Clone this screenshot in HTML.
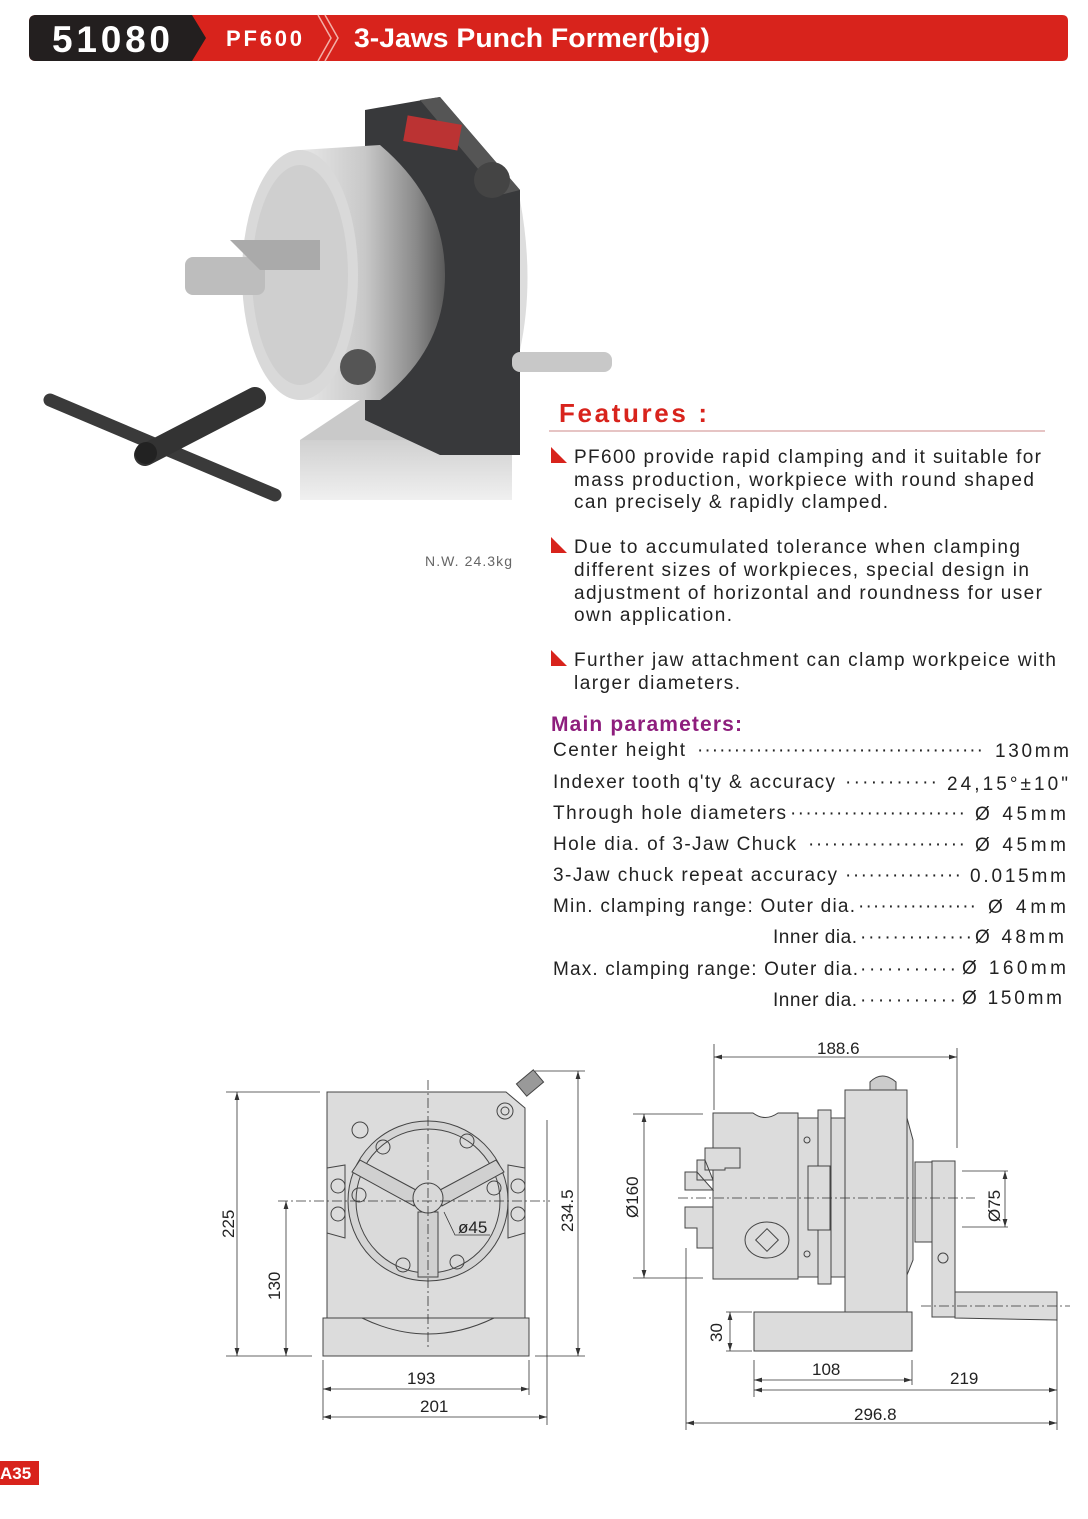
<!DOCTYPE html>
<html><head><meta charset="utf-8"><style>
html,body{margin:0;padding:0;background:#fff}
svg{display:block}
text{font-family:"Liberation Sans",sans-serif}
</style></head><body>
<svg width="1088" height="1519" viewBox="0 0 1088 1519" xmlns="http://www.w3.org/2000/svg">
<defs>
<linearGradient id="chk" x1="0" x2="1"><stop offset="0" stop-color="#e8e8e8"/><stop offset="0.45" stop-color="#c8c8c8"/><stop offset="0.8" stop-color="#8a8a8a"/><stop offset="1" stop-color="#5a5a5a"/></linearGradient>
<linearGradient id="bs" x1="0" y1="0" x2="0" y2="1"><stop offset="0" stop-color="#d0d0d0"/><stop offset="1" stop-color="#f0f0f0"/></linearGradient>
<marker id="a" viewBox="0 0 10 6" refX="10" refY="3" markerWidth="10" markerHeight="6" orient="auto-start-reverse"><path d="M0,0 L10,3 L0,6 z" fill="#333"/></marker>
</defs>
<!-- header -->
<path d="M36,15 H1062 Q1068,15 1068,21 V55 Q1068,61 1062,61 H36 Q29,61 29,54 V22 Q29,15 36,15Z" fill="#d8231c"/>
<path d="M36,15 H192 L206,38 L192,61 H36 Q29,61 29,54 V22 Q29,15 36,15Z" fill="#231f1f"/>
<path d="M318,15 L331,38 L318,61 M325,15 L338,38 L325,61" stroke="#f3b0a8" stroke-width="1.5" fill="none"/>
<text x="52" y="52" font-size="37" font-weight="bold" fill="#fff" textLength="118">51080</text>
<text x="226" y="46" font-size="22" font-weight="bold" fill="#fff" textLength="76">PF600</text>
<text x="354" y="47" font-size="27" font-weight="bold" fill="#fff" textLength="356" lengthAdjust="spacingAndGlyphs">3-Jaws Punch Former(big)</text>

<!-- photo approximation -->
<path d="M300,440 L512,440 L512,500 L300,500 Z" fill="url(#bs)"/>
<path d="M300,440 L360,400 L460,400 L512,440Z" fill="#c9c9c9"/>
<path d="M365,110 L440,97 L520,190 L520,455 L440,455 L365,420Z" fill="#38393b"/>
<path d="M440,97 L520,190 L500,195 L420,100Z" fill="#555"/>
<rect x="405" y="120" width="55" height="26" fill="#b33" transform="rotate(10 433 133)"/>
<circle cx="492" cy="180" r="18" fill="#444"/>
<path d="M520,200 Q535,280 520,350Z" fill="#ddd"/>
<rect x="512" y="352" width="100" height="20" rx="8" fill="#c8c8c8"/>
<path d="M300,150 L380,145 Q445,200 445,275 Q445,350 380,400 L300,400Z" fill="url(#chk)"/>
<ellipse cx="300" cy="275" rx="58" ry="125" fill="#d9d9d9"/>
<ellipse cx="300" cy="275" rx="48" ry="110" fill="#cfcfcf"/>
<rect x="185" y="257" width="80" height="38" rx="8" fill="#bdbdbd"/>
<path d="M230,240 L320,240 L320,270 L260,270Z" fill="#aaa"/>
<circle cx="358" cy="367" r="18" fill="#555"/>
<path d="M50,400 L275,495" stroke="#3a3a3a" stroke-width="13" stroke-linecap="round"/>
<path d="M145,455 L255,398" stroke="#333" stroke-width="22" stroke-linecap="round"/>
<circle cx="146" cy="453" r="11" fill="#222"/>
<text x="425" y="566" font-size="14" fill="#666" textLength="87">N.W. 24.3kg</text>

<!-- features -->
<text x="559" y="422" font-size="26" font-weight="bold" fill="#d8231c" textLength="148">Features :</text>
<line x1="549" y1="431" x2="1045" y2="431" stroke="#c88" stroke-width="1"/>
<g fill="#d8231c"><path d="M551,447 L567,463 L551,463Z"/><path d="M551,537 L567,553 L551,553Z"/><path d="M551,650 L567,666 L551,666Z"/></g>
<g font-size="19" fill="#222">
<text x="574" y="463" textLength="467">PF600 provide rapid clamping and it suitable for</text>
<text x="574" y="486" textLength="460">mass production, workpiece with round shaped</text>
<text x="574" y="508" textLength="314">can precisely &amp; rapidly clamped.</text>
<text x="574" y="553" textLength="446">Due to accumulated tolerance when clamping</text>
<text x="574" y="576" textLength="455">different sizes of workpieces, special design in</text>
<text x="574" y="599" textLength="468">adjustment of horizontal and roundness for user</text>
<text x="574" y="621" textLength="158">own application.</text>
<text x="574" y="666" textLength="482">Further jaw attachment can clamp workpeice with</text>
<text x="574" y="689" textLength="166">larger diameters.</text>
</g>
<text x="551" y="731" font-size="21" font-weight="bold" fill="#8e1e7d" textLength="191">Main parameters:</text>
<g font-size="19" fill="#222">
<text x="553" y="756" textLength="132">Center height</text><text x="697" y="756" textLength="288" letter-spacing="2">·······································</text><text x="995" y="757" textLength="74">130mm</text>
<text x="553" y="788" textLength="282">Indexer tooth q'ty &amp; accuracy</text><text x="845" y="788" textLength="92">···········</text><text x="947" y="790" textLength="121">24,15°±10"</text>
<text x="553" y="819" textLength="233">Through hole diameters</text><text x="790" y="819" textLength="175">·······················</text><text x="975" y="820" textLength="91">Ø 45mm</text>
<text x="553" y="850" textLength="243">Hole dia. of 3-Jaw Chuck</text><text x="808" y="850" textLength="157">····················</text><text x="975" y="851" textLength="91">Ø 45mm</text>
<text x="553" y="881" textLength="284">3-Jaw chuck repeat accuracy</text><text x="845" y="881" textLength="116">···············</text><text x="970" y="882" textLength="96">0.015mm</text>
<text x="553" y="912" textLength="302">Min. clamping range: Outer dia.</text><text x="858" y="912" textLength="118">················</text><text x="988" y="913" textLength="78">Ø 4mm</text>
<text x="773" y="943" textLength="84">Inner dia.</text><text x="860" y="943" textLength="112">··············</text><text x="975" y="943" textLength="89">Ø 48mm</text>
<text x="553" y="975" textLength="305">Max. clamping range: Outer dia.</text><text x="860" y="975" textLength="96">···········</text><text x="962" y="974" textLength="104">Ø 160mm</text>
<text x="773" y="1006" textLength="84">Inner dia.</text><text x="860" y="1006" textLength="96">···········</text><text x="962" y="1004" textLength="100">Ø 150mm</text>
</g>

<!-- front view drawing -->
<g stroke="#444" stroke-width="1" fill="#dcdcdc">
<path d="M327,1092 H506 L525,1108 V1318 H327Z"/>
<path d="M323,1318 H529 V1356 H323Z"/>
<path d="M327,1318 H362 Q428,1350 494,1318 H525" fill="none"/>
<path d="M327,1168 L345,1165 V1238 L327,1233Z M525,1168 L508,1165 V1238 L525,1233Z"/>
<circle cx="428" cy="1201" r="80" fill="#d4d4d4"/>
<circle cx="428" cy="1201" r="72" fill="#dadada"/>
<path d="M416,1190 L360,1160 L352,1172 L414,1206Z M440,1190 L496,1160 L504,1172 L442,1206Z M418,1212 H438 V1277 H418Z" fill="#d0d0d0"/>
<circle cx="428" cy="1198" r="15" fill="#d8d8d8"/>
<g fill="none"><circle cx="360" cy="1130" r="8"/><circle cx="383" cy="1147" r="7"/><circle cx="467" cy="1141" r="7"/><circle cx="338" cy="1186" r="7"/><circle cx="338" cy="1214" r="7"/><circle cx="518" cy="1186" r="7"/><circle cx="518" cy="1214" r="7"/><circle cx="359" cy="1195" r="7"/><circle cx="494" cy="1188" r="7"/><circle cx="403" cy="1265" r="7"/><circle cx="457" cy="1262" r="7"/><circle cx="505" cy="1111" r="8"/><circle cx="505" cy="1111" r="4"/></g>
<rect x="519" y="1075" width="22" height="16" fill="#999" transform="rotate(-40 530 1083)"/>
</g>
<g stroke="#333" stroke-width="0.8" fill="none">
<line x1="428" y1="1080" x2="428" y2="1350" stroke-dasharray="10,3,2,3"/>
<line x1="278" y1="1201" x2="550" y2="1201" stroke-dasharray="10,3,2,3"/>
<line x1="226" y1="1092" x2="320" y2="1092"/><line x1="226" y1="1356" x2="312" y2="1356"/>
<line x1="237" y1="1092" x2="237" y2="1356" marker-start="url(#a)" marker-end="url(#a)"/>
<line x1="286" y1="1201" x2="286" y2="1356" marker-start="url(#a)" marker-end="url(#a)"/>
<line x1="535" y1="1071" x2="585" y2="1071"/><line x1="535" y1="1356" x2="585" y2="1356"/>
<line x1="578" y1="1071" x2="578" y2="1356" marker-start="url(#a)" marker-end="url(#a)"/>
<line x1="323" y1="1360" x2="323" y2="1420"/><line x1="529" y1="1360" x2="529" y2="1395"/><line x1="547" y1="1120" x2="547" y2="1425"/>
<line x1="323" y1="1389" x2="529" y2="1389" marker-start="url(#a)" marker-end="url(#a)"/>
<line x1="323" y1="1417" x2="547" y2="1417" marker-start="url(#a)" marker-end="url(#a)"/>
<path d="M444,1212 L455,1235 H490"/>
</g>
<g font-size="17" fill="#222">
<text x="407" y="1384">193</text><text x="420" y="1412">201</text><text x="458" y="1233">ø45</text>
<text transform="translate(234,1238) rotate(-90)">225</text>
<text transform="translate(280,1300) rotate(-90)">130</text>
<text transform="translate(573,1232) rotate(-90)">234.5</text>
</g>

<!-- side view drawing -->
<g stroke="#444" stroke-width="1" fill="#dcdcdc">
<rect x="754" y="1312" width="158" height="39"/>
<rect x="845" y="1090" width="62" height="222"/>
<path d="M907,1118 L913,1140 V1260 L907,1275Z"/>
<path d="M870,1090 V1082 Q882,1070 896,1082 V1090Z" fill="#ccc"/>
<rect x="798" y="1118" width="47" height="159"/>
<rect x="818" y="1110" width="13" height="174"/>
<rect x="808" y="1166" width="22" height="64"/>
<path d="M713,1113 H753 Q765,1122 778,1113 H798 V1279 H713Z"/>
<path d="M713,1170 H705 V1148 H740 V1168 H725 V1170 Z M713,1180 H697 V1160 H705 Z M713,1190 H685 V1172 H697Z"/>
<path d="M713,1207 H685 V1228 H697 V1248 H713Z"/>
<ellipse cx="767" cy="1240" rx="22" ry="18" fill="none"/><rect x="759" y="1232" width="16" height="16" fill="none" transform="rotate(45 767 1240)"/>
<rect x="915" y="1162" width="18" height="80"/>
<rect x="932" y="1161" width="23" height="156"/>
<path d="M955,1292 L1057,1292 V1320 L955,1318Z"/>
<circle cx="943" cy="1258" r="5" fill="none"/><circle cx="807" cy="1140" r="3" fill="none"/><circle cx="807" cy="1254" r="3" fill="none"/>
</g>
<g stroke="#333" stroke-width="0.8" fill="none">
<line x1="678" y1="1198" x2="975" y2="1198" stroke-dasharray="10,3,2,3"/>
<line x1="921" y1="1306" x2="1070" y2="1306" stroke-dasharray="10,3,2,3"/>
<line x1="714" y1="1044" x2="714" y2="1110"/><line x1="957" y1="1048" x2="957" y2="1148"/>
<line x1="714" y1="1057" x2="957" y2="1057" marker-start="url(#a)" marker-end="url(#a)"/>
<line x1="633" y1="1114" x2="703" y2="1114"/><line x1="633" y1="1278" x2="703" y2="1278"/>
<line x1="644" y1="1114" x2="644" y2="1278" marker-start="url(#a)" marker-end="url(#a)"/>
<line x1="962" y1="1171" x2="1008" y2="1171"/><line x1="962" y1="1227" x2="1008" y2="1227"/>
<line x1="1005" y1="1171" x2="1005" y2="1227" marker-start="url(#a)" marker-end="url(#a)"/>
<line x1="726" y1="1312" x2="752" y2="1312"/><line x1="726" y1="1351" x2="752" y2="1351"/>
<line x1="730" y1="1312" x2="730" y2="1351" marker-start="url(#a)" marker-end="url(#a)"/>
<line x1="754" y1="1360" x2="754" y2="1397"/><line x1="912" y1="1360" x2="912" y2="1385"/>
<line x1="1057" y1="1320" x2="1057" y2="1430"/><line x1="686" y1="1248" x2="686" y2="1430"/>
<line x1="754" y1="1380" x2="912" y2="1380" marker-start="url(#a)" marker-end="url(#a)"/>
<line x1="754" y1="1390" x2="1057" y2="1390" marker-start="url(#a)" marker-end="url(#a)"/>
<line x1="686" y1="1423" x2="1057" y2="1423" marker-start="url(#a)" marker-end="url(#a)"/>
</g>
<g font-size="17" fill="#222">
<text x="817" y="1054">188.6</text><text x="812" y="1375">108</text><text x="950" y="1384">219</text><text x="854" y="1420">296.8</text>
<text transform="translate(638,1218) rotate(-90)">Ø160</text>
<text transform="translate(1000,1222) rotate(-90)">Ø75</text>
<text transform="translate(722,1342) rotate(-90)">30</text>
</g>

<!-- page tag -->
<rect x="0" y="1461" width="39" height="24" fill="#d8231c"/>
<text x="0" y="1479" font-size="17" font-weight="bold" fill="#fff">A35</text>
</svg>
</body></html>
